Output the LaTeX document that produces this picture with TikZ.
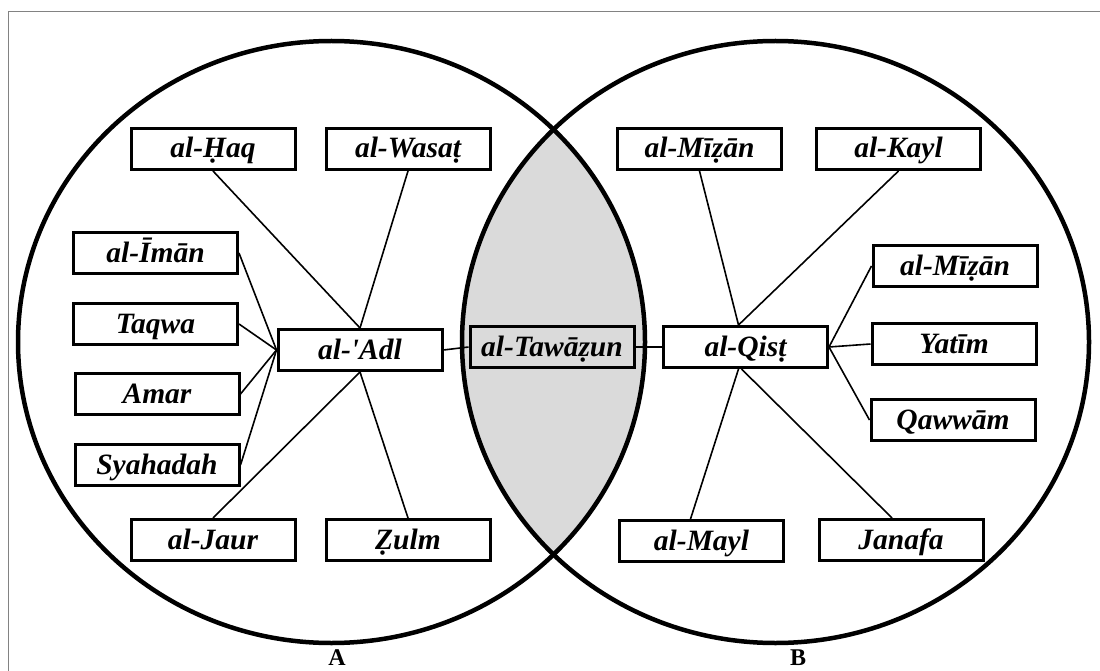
\documentclass[tikz,border=0pt]{standalone}
\usepackage{fontspec}
\setmainfont{Liberation Serif}
\usetikzlibrary{calc}
\pgfdeclarelayer{under}
\pgfsetlayers{under,main}
\definecolor{lensgray}{RGB}{218,218,218}
\definecolor{framegray}{RGB}{130,130,130}
\tikzset{
  term/.style={draw=black, line width=3pt, fill=white, rectangle,
    minimum width=164pt, minimum height=41pt, inner sep=0pt,
    text height=22pt, text depth=4pt,
    font=\fontsize{29.5}{34}\selectfont\bfseries\itshape},
  core/.style={term, fill=lensgray},
  link/.style={line width=1.6pt, black},
  ring/.style={line width=4.5pt, black},
  setlabel/.style={font=\fontsize{24}{28}\selectfont\bfseries, anchor=base, inner sep=0pt}
}
\begin{document}
\begin{tikzpicture}[x=1pt, y=-1pt]
  \useasboundingbox (0,0) rectangle (1100,671);

  % central terms
  \node[term] (adl) at (360,350) {al-\textquotesingle Adl};
  \node[core] (tawazun) at (552,347) {al-Taw\={a}\d{z}un};
  \node[term] (qist) at (745.5,347) {al-Qis\d{t}};

  % set A
  \node[term] (haq) at (213,149) {al-\d{H}aq};
  \node[term] (wasat) at (408,149) {al-Wasa\d{t}};
  \node[term] (iman) at (155.5,253) {al-\={I}m\={a}n};
  \node[term] (taqwa) at (155.5,324) {Taqwa};
  \node[term] (amar) at (157,394) {Amar};
  \node[term] (syahadah) at (157,465) {Syahadah};
  \node[term] (jaur) at (213,540) {al-Jaur};
  \node[term] (zulm) at (408,540) {\d{Z}ulm};

  % set B
  \node[term] (mizanA) at (699.5,149) {al-M\={\i}\d{z}\={a}n};
  \node[term] (kayl) at (898.5,149) {al-Kayl};
  \node[term] (mizanB) at (955,266) {al-M\={\i}\d{z}\={a}n};
  \node[term] (yatim) at (954,344) {Yat\={\i}m};
  \node[term] (qawwam) at (953,420) {Qaww\={a}m};
  \node[term] (mayl) at (701.5,541) {al-Mayl};
  \node[term] (janafa) at (901,540) {Janafa};

  % set labels
  \node[setlabel] (labelA) at (337,665) {A};
  \node[setlabel] (labelB) at (798,665) {B};

  \begin{pgfonlayer}{under}
    \fill[white] (0,0) rectangle (1100,671);
    % thin frame
    \draw[framegray, line width=1pt] (8,671) -- (8,12) -- (1100,12);

    % shaded intersection of the two sets
    \begin{scope}
      \clip (331.5,342) ellipse [x radius=313.5, y radius=301];
      \fill[lensgray] (775.5,342) ellipse [x radius=313.5, y radius=301];
    \end{scope}
    \draw[ring] (331.5,342) ellipse [x radius=313.5, y radius=301];
    \draw[ring] (775.5,342) ellipse [x radius=313.5, y radius=301];

    % connectors
    \draw[link] (haq.south) -- (adl.north);
    \draw[link] (wasat.south) -- (adl.north);
    \draw[link] (iman.east) -- (adl.west);
    \draw[link] (taqwa.east) -- (adl.west);
    \draw[link] (amar.east) -- (adl.west);
    \draw[link] (syahadah.east) -- (adl.west);
    \draw[link] (jaur.north) -- (adl.south);
    \draw[link] (zulm.north) -- (adl.south);
    \draw[link] (adl.east) -- (tawazun.west);
    \draw[link] (tawazun.east) -- (qist.west);

    \draw[link] (mizanA.south) -- ($(qist.north)+(-7,0)$);
    \draw[link] (kayl.south) -- ($(qist.north)+(-7,0)$);
    \draw[link] (mizanB.west) -- (qist.east);
    \draw[link] (yatim.west) -- (qist.east);
    \draw[link] (qawwam.west) -- (qist.east);
    \draw[link] ($(mayl.north)+(-11,0)$) -- ($(qist.south)+(-7,0)$);
    \draw[link] ($(janafa.north)+(-9,0)$) -- ($(qist.south)+(-4,0)$);
  \end{pgfonlayer}
\end{tikzpicture}
\end{document}
